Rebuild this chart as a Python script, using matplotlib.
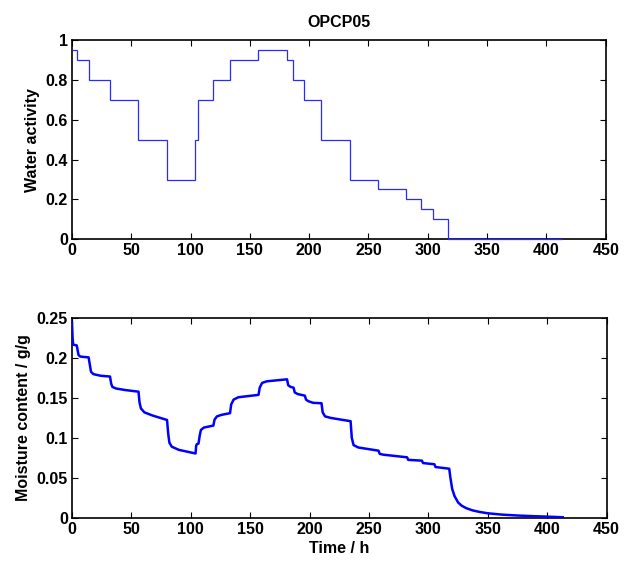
import numpy as np
import matplotlib
matplotlib.use('Agg')
import matplotlib.pyplot as plt

# water activity steps (hours, aw)
step_times = [0, 4, 14, 32, 56, 80, 104, 106, 119, 133, 157, 181, 186, 196,
              210, 234, 258, 282, 294, 304, 317, 413]
aw_levels = [0.95, 0.9, 0.8, 0.7, 0.5, 0.3, 0.5, 0.7, 0.8, 0.9, 0.95, 0.9,
             0.8, 0.7, 0.5, 0.3, 0.25, 0.2, 0.15, 0.1, 0.0]

# moisture content (hours, g/g)
mc_time = [0, 0.5, 1, 4, 4.5, 5.5, 7, 14,
           15, 16, 18, 24, 32,
           33, 34, 37, 45, 56,
           56.8, 58, 61, 68, 80,
           81, 82, 84, 90, 104,
           104.5, 105, 106.5, 107.5, 108.5, 111, 119,
           120, 122, 126, 133,
           134, 136, 140, 157,
           158, 160, 164, 181,
           182, 184, 186.5,
           187.5, 190, 196,
           197, 199, 203, 210,
           211, 213, 218, 234.5,
           235.5, 237, 241, 258,
           259, 262, 282,
           283, 294.5,
           295.5, 305,
           306, 317.5,
           318.5, 320, 322, 325, 328, 332, 337, 343, 350, 362, 375, 390, 400, 413]
mc_value = [0.245, 0.225, 0.217, 0.216, 0.212, 0.204, 0.202, 0.201,
            0.192, 0.183, 0.180, 0.178, 0.177,
            0.168, 0.164, 0.162, 0.160, 0.158,
            0.145, 0.137, 0.132, 0.128, 0.1225,
            0.105, 0.094, 0.089, 0.085, 0.0805,
            0.090, 0.092, 0.093, 0.103, 0.110, 0.113, 0.1155,
            0.123, 0.127, 0.129, 0.131,
            0.142, 0.148, 0.151, 0.154,
            0.163, 0.169, 0.171, 0.1735,
            0.166, 0.164, 0.163,
            0.157, 0.155, 0.153,
            0.148, 0.146, 0.144, 0.1435,
            0.132, 0.127, 0.125, 0.121,
            0.100, 0.091, 0.088, 0.084,
            0.080, 0.079, 0.0757,
            0.0725, 0.0715,
            0.0685, 0.067,
            0.0635, 0.0614,
            0.050, 0.036, 0.027, 0.019, 0.015, 0.0118, 0.0092, 0.0072, 0.0055, 0.0038, 0.0027, 0.0018, 0.0013, 0.0005]

plt.rcParams['font.family'] = ['Liberation Sans', 'DejaVu Sans']

fig = plt.figure(figsize=(6.32, 5.68), dpi=100)
ax1 = fig.add_axes([0.1139, 0.5787, 0.8445, 0.3509])
ax2 = fig.add_axes([0.1139, 0.0886, 0.8460, 0.3510])

ax1.stairs(aw_levels, step_times, color='#2a2aff', lw=0.9, baseline=None,
           zorder=3, clip_on=False)
ax1.set_xlim(0, 450)
ax1.set_ylim(0, 1)
ax1.set_yticks([0, 0.2, 0.4, 0.6, 0.8, 1])
ax1.set_yticklabels(['0', '0.2', '0.4', '0.6', '0.8', '1'])
ax1.set_ylabel('Water activity', fontsize=11.5, fontweight='bold')
ax1.set_title('OPCP05', fontsize=11.5, pad=9, fontweight='semibold')

ax2.plot(mc_time, mc_value, color='#0000ff', lw=1.8, zorder=3)
ax2.set_xlim(0, 450)
ax2.set_ylim(0, 0.25)
ax2.set_yticks([0, 0.05, 0.1, 0.15, 0.2, 0.25])
ax2.set_yticklabels(['0', '0.05', '0.1', '0.15', '0.2', '0.25'])
ax2.set_ylabel('Moisture content / g/g', fontsize=11.5, fontweight='bold')
ax2.set_xlabel('Time / h', fontsize=11.5, fontweight='bold', labelpad=3)

for ax in (ax1, ax2):
    ax.set_xticks(np.arange(0, 451, 50))
    ax.tick_params(direction='in', top=True, right=True, length=4, width=0.8,
                   labelsize=11.5, pad=3)
    for lab in ax.get_xticklabels() + ax.get_yticklabels():
        lab.set_fontweight('bold')
    for s in ax.spines.values():
        s.set_linewidth(1.2)
        s.set_zorder(2)

fig.savefig('out.png', dpi=100)
